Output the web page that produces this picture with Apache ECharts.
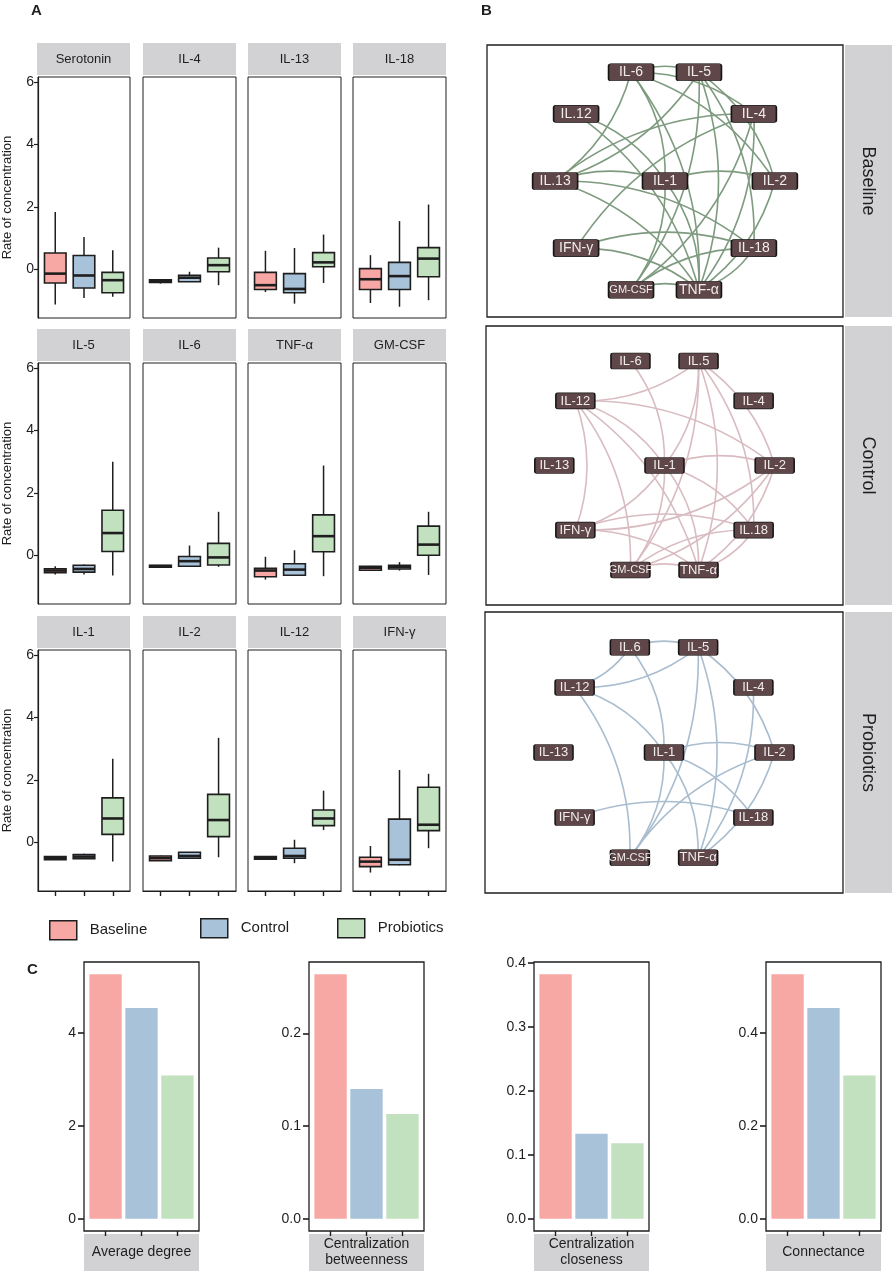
<!DOCTYPE html>
<html lang="en">
<head>
<meta charset="utf-8">
<title>Cytokines, networks and network metrics</title>
<script src="https://cdn.jsdelivr.net/npm/echarts@6/dist/echarts.min.js"></script>
<style>
    html, body { margin: 0; padding: 0; background: #fff; }
    #main { width: 892px; height: 1271px; }
</style>
</head>
<body>
<div id="main"></div>
<script>
// ---- data ----
var groups = ['Baseline', 'Control', 'Probiotics'];
var cytokines = ['Serotonin', 'IL-4', 'IL-13', 'IL-18', 'IL-5', 'IL-6', 'TNF-α', 'GM-CSF', 'IL-1', 'IL-2', 'IL-12', 'IFN-γ'];
// each row: [lower whisker, Q1, median, Q3, upper whisker]
var baselineBox = [
    [-1.12, -0.43, -0.13, 0.53, 1.84],
    [-0.45, -0.41, -0.37, -0.33, -0.31],
    [-0.72, -0.64, -0.50, -0.09, 0.60],
    [-1.07, -0.64, -0.31, 0.03, 0.46],
    [-0.61, -0.55, -0.48, -0.42, -0.34],
    [-0.38, -0.37, -0.34, -0.31, -0.30],
    [-0.77, -0.68, -0.48, -0.41, -0.04],
    [-0.49, -0.47, -0.39, -0.34, -0.33],
    [-0.56, -0.55, -0.50, -0.45, -0.44],
    [-0.59, -0.58, -0.50, -0.43, -0.42],
    [-0.54, -0.53, -0.49, -0.45, -0.44],
    [-0.96, -0.77, -0.61, -0.47, -0.11]
];
var controlBox = [
    [-0.91, -0.59, -0.19, 0.45, 1.04],
    [-0.39, -0.39, -0.26, -0.18, -0.07],
    [-1.09, -0.74, -0.62, -0.13, 0.69],
    [-1.19, -0.64, -0.21, 0.23, 1.55],
    [-0.61, -0.53, -0.43, -0.31, -0.29],
    [-0.36, -0.34, -0.18, -0.03, 0.32],
    [-0.64, -0.63, -0.45, -0.26, 0.17],
    [-0.48, -0.43, -0.36, -0.31, -0.21],
    [-0.53, -0.52, -0.45, -0.38, -0.36],
    [-0.51, -0.50, -0.43, -0.31, -0.30],
    [-0.66, -0.50, -0.43, -0.18, 0.09],
    [-0.73, -0.71, -0.55, 0.75, 2.32]
];
var probioticsBox = [
    [-0.87, -0.74, -0.34, -0.09, 0.62],
    [-0.50, -0.07, 0.14, 0.37, 0.70],
    [-0.43, 0.09, 0.23, 0.54, 1.12],
    [-0.98, -0.23, 0.35, 0.70, 2.08],
    [-0.64, 0.13, 0.72, 1.45, 3.00],
    [-0.36, -0.30, -0.06, 0.39, 1.40],
    [-0.66, 0.12, 0.62, 1.30, 2.88],
    [-0.62, 0.01, 0.35, 0.94, 1.40],
    [-0.61, 0.26, 0.77, 1.43, 2.68],
    [-0.47, 0.19, 0.72, 1.54, 3.35],
    [0.40, 0.54, 0.77, 1.04, 1.66],
    [-0.18, 0.38, 0.57, 1.77, 2.20]
];
var boxTicks = [0, 2, 4, 6];

var metricNames = ['Average degree', 'Centralization\nbetweenness', 'Centralization\ncloseness', 'Connectance'];
var baselineMetric = [5.27, 0.264, 0.382, 0.527];
var controlMetric = [4.54, 0.140, 0.133, 0.454];
var probioticsMetric = [3.09, 0.113, 0.118, 0.309];
var metricTicks = [[0, 2, 4], [0, 0.1, 0.2], [0, 0.1, 0.2, 0.3, 0.4], [0, 0.2, 0.4]];

// network nodes, ring order (counter-clockwise from the right), hub last
var netNodes = ['IL-2', 'IL-4', 'IL-5', 'IL-6', 'IL-12', 'IL-13', 'IFN-γ', 'GM-CSF', 'TNF-α', 'IL-18', 'IL-1'];
var baselineLabels = ['IL-2', 'IL-4', 'IL-5', 'IL-6', 'IL.12', 'IL.13', 'IFN-γ', 'GM-CSF', 'TNF-α', 'IL-18', 'IL-1'];
var controlLabels = ['IL-2', 'IL-4', 'IL.5', 'IL-6', 'IL-12', 'IL-13', 'IFN-γ', 'GM-CSF', 'TNF-α', 'IL.18', 'IL-1'];
var probioticsLabels = ['IL-2', 'IL-4', 'IL-5', 'IL.6', 'IL-12', 'IL-13', 'IFN-γ', 'GM-CSF', 'TNF-α', 'IL-18', 'IL-1'];
var baselineEdges = [
    ['IL-6', 'IL-5'], ['IL-6', 'IL-4'], ['IL-6', 'IL-2'], ['IL-6', 'IL-1'], ['IL-6', 'IL-13'],
    ['IL-6', 'TNF-α'], ['IL-5', 'IL-13'], ['IL-5', 'GM-CSF'], ['IL-5', 'TNF-α'], ['IL-5', 'IL-2'],
    ['IL-5', 'IL-18'], ['IL-12', 'IL-1'], ['IL-12', 'TNF-α'], ['IL-13', 'IL-4'], ['IL-13', 'IL-1'],
    ['IL-13', 'TNF-α'], ['IL-13', 'IL-18'], ['IFN-γ', 'IL-18'], ['IFN-γ', 'IL-4'], ['IFN-γ', 'TNF-α'],
    ['IL-1', 'GM-CSF'], ['IL-1', 'TNF-α'], ['IL-1', 'IL-2'], ['IL-4', 'GM-CSF'], ['IL-4', 'TNF-α'],
    ['IL-2', 'TNF-α'], ['GM-CSF', 'TNF-α'], ['GM-CSF', 'IL-18'], ['IL-18', 'TNF-α']
];
var controlEdges = [
    ['IL-6', 'IL-1'], ['IL-5', 'IL-12'], ['IL-5', 'IL-1'], ['IL-5', 'GM-CSF'], ['IL-5', 'IL-2'],
    ['IL-5', 'IL-18'], ['IL-5', 'TNF-α'], ['IL-12', 'IL-1'], ['IL-12', 'IL-2'], ['IL-12', 'IFN-γ'],
    ['IL-12', 'TNF-α'], ['IL-12', 'GM-CSF'], ['IL-1', 'IL-2'], ['IL-1', 'IL-18'], ['IL-1', 'TNF-α'],
    ['IL-1', 'IFN-γ'], ['IL-2', 'TNF-α'], ['IL-2', 'GM-CSF'], ['IL-2', 'IFN-γ'], ['IFN-γ', 'IL-18'],
    ['IFN-γ', 'TNF-α'], ['GM-CSF', 'TNF-α'], ['GM-CSF', 'IL-18'], ['IL-18', 'TNF-α'], ['IL-1', 'GM-CSF']
];
var probioticsEdges = [
    ['IL-6', 'IL-5'], ['IL-6', 'IL-12'], ['IL-6', 'IL-1'], ['IL-5', 'IL-12'], ['IL-5', 'GM-CSF'],
    ['IL-5', 'TNF-α'], ['IL-5', 'IL-2'], ['IL-12', 'IL-1'], ['IL-12', 'GM-CSF'], ['IL-4', 'TNF-α'],
    ['IL-1', 'IL-2'], ['IL-1', 'GM-CSF'], ['IL-1', 'TNF-α'], ['IFN-γ', 'IL-18'], ['GM-CSF', 'IL-2'],
    ['IL-2', 'TNF-α'], ['IL-1', 'IL-18']
];

// ---- styling / layout ----
var groupColors = ['#F7A8A4', '#A7C2D9', '#C1E1BF'];
var ink = '#1e1e1e';
var stripGray = '#D2D2D4';
var font = '"Liberation Sans", Arial, sans-serif';
var narrow = '"Liberation Sans Narrow", "Liberation Sans", Arial, sans-serif';
// node shape: rectangle with small rounded corners
var nodeShape = 'path://M2,0 H38 Q40,0 40,2 V13 Q40,15 38,15 H2 Q0,15 0,13 V2 Q0,0 2,0 Z';

var grids = [], xAxes = [], yAxes = [], series = [], graphics = [];

function addGrid(l, t, w, h) {
    grids.push({ left: l, top: t, width: w, height: h, show: true, borderColor: ink, borderWidth: 1, backgroundColor: 'rgba(0,0,0,0)' });
    return grids.length - 1;
}

function strip(x, y, w, h, text, size, fam) {
    graphics.push({ type: 'rect', left: x, top: y, shape: { width: w, height: h }, style: { fill: stripGray }, silent: true });
    graphics.push({ type: 'text', x: x + w / 2, y: y + h / 2, style: { text: text, fill: ink, font: size + 'px ' + fam, align: 'center', verticalAlign: 'middle', lineHeight: size + 2 }, silent: true });
}

function boxRender(color) {
    return function (params, api) {
        var x = api.value(0);
        var med = api.coord([x, api.value(3)]);
        var w = api.size([0.75, 0])[0];
        var yLo = api.coord([x, api.value(1)])[1];
        var yQ1 = api.coord([x, api.value(2)])[1];
        var yQ3 = api.coord([x, api.value(4)])[1];
        var yHi = api.coord([x, api.value(5)])[1];
        return {
            type: 'group',
            children: [
                { type: 'line', shape: { x1: med[0], y1: yHi, x2: med[0], y2: yLo }, style: { stroke: ink, lineWidth: 1.5 } },
                { type: 'rect', shape: { x: med[0] - w / 2, y: yQ3, width: w, height: Math.max(yQ1 - yQ3, 1.5) }, style: { fill: color, stroke: ink, lineWidth: 1.6 } },
                { type: 'line', shape: { x1: med[0] - w / 2, y1: med[1], x2: med[0] + w / 2, y2: med[1] }, style: { stroke: ink, lineWidth: 2.6 } }
            ]
        };
    };
}

function barRender(color) {
    return function (params, api) {
        var x = api.value(0);
        var p0 = api.coord([x, 0]);
        var p1 = api.coord([x, api.value(1)]);
        var w = api.size([0.9, 0])[0];
        return { type: 'rect', shape: { x: p0[0] - w / 2, y: p1[1], width: w, height: p0[1] - p1[1] }, style: { fill: color } };
    };
}

// ---- panel A: boxplots ----
var colLeft = [37, 143, 248, 353];
var rowTop = [77, 363, 650];
var boxSets = [baselineBox, controlBox, probioticsBox];
cytokines.forEach(function (name, k) {
    var row = Math.floor(k / 4), col = k % 4;
    var gi = addGrid(colLeft[col], rowTop[row], 93, 241);
    strip(colLeft[col], rowTop[row] - 34, 93, 32, name, 13, font);
    var first = col === 0, bottom = row === 2;
    xAxes.push({
        gridIndex: gi, type: 'value', min: 0.4, max: 3.6,
        axisLine: { show: bottom, onZero: false, lineStyle: { color: ink, width: 1.2 } },
        axisTick: { show: bottom, customValues: [1, 2, 3], length: 5, lineStyle: { color: ink, width: 1.4 } },
        axisLabel: { show: false }, splitLine: { show: false }
    });
    yAxes.push({
        gridIndex: gi, type: 'value', min: -1.55, max: 6.16,
        name: first ? 'Rate of concentration' : '', nameLocation: 'middle', nameGap: 24,
        nameTextStyle: { fontSize: 13, color: ink, fontFamily: font },
        axisLine: { show: first, onZero: false, lineStyle: { color: ink, width: 1.2 } },
        axisTick: { show: first, customValues: boxTicks, length: 4, lineStyle: { color: ink, width: 1.2 } },
        axisLabel: { show: first, customValues: boxTicks, fontSize: 14, color: ink, margin: 4, fontFamily: font },
        splitLine: { show: false }
    });
    groups.forEach(function (g, j) {
        var s = boxSets[j][k];
        series.push({
            type: 'custom', name: g, xAxisIndex: gi, yAxisIndex: gi,
            itemStyle: { color: groupColors[j] },
            encode: { x: 0, y: [1, 2, 3, 4, 5] },
            renderItem: boxRender(groupColors[j]),
            data: [[j + 1, s[0], s[1], s[2], s[3], s[4]]]
        });
    });
});

// ---- panel B: networks ----
var netSets = [
    { name: 'Baseline', labels: baselineLabels, edges: baselineEdges, rect: [487, 45, 356, 272], yHalf: 1.19, size: [45, 17], fs: 14, color: '#7E9B7F' },
    { name: 'Control', labels: controlLabels, edges: controlEdges, rect: [486, 326, 357, 279], yHalf: 1.27, size: [39, 16], fs: 13, color: '#D9BCC1' },
    { name: 'Probiotics', labels: probioticsLabels, edges: probioticsEdges, rect: [485, 612, 358, 281], yHalf: 1.27, size: [39, 16], fs: 13, color: '#A9BDCF' }
];
netSets.forEach(function (net) {
    var r = net.rect;
    var gi = addGrid(r[0], r[1], r[2], r[3]);
    grids[gi].borderWidth = 1.3;
    strip(845, r[1], 47, r[3], '', 16, font);
    graphics.push({
        type: 'text', x: 868, y: r[1] + r[3] / 2, rotation: -Math.PI / 2,
        style: { text: net.name, fill: ink, font: '18px ' + font, align: 'center', verticalAlign: 'middle' }, silent: true
    });
    xAxes.push({ gridIndex: gi, type: 'value', min: -1.62, max: 1.62, show: false });
    yAxes.push({ gridIndex: gi, type: 'value', min: -net.yHalf, max: net.yHalf, show: false });
    var nodes = netNodes.map(function (n, i) {
        var pos = [0, 0];
        if (i < 10) {
            var a = i * Math.PI / 5;
            pos = [Math.cos(a), Math.sin(a)];
        }
        return { name: n, value: pos };
    });
    var labels = net.labels;
    series.push({
        type: 'graph', name: 'net-' + net.name, coordinateSystem: 'cartesian2d', xAxisIndex: gi, yAxisIndex: gi,
        layout: 'none', roam: false, silent: true,
        symbol: nodeShape, symbolSize: net.size, symbolKeepAspect: false,
        itemStyle: { color: '#5E4649', borderColor: '#151515', borderWidth: 1 },
        label: {
            show: true, position: 'inside', color: '#F1ECEC', fontSize: net.fs, fontFamily: font,
            formatter: function (p) {
                var t = labels[p.dataIndex];
                return t === 'GM-CSF' ? '{s|' + t + '}' : t;
            },
            rich: { s: { fontSize: 11, color: '#F1ECEC', fontFamily: narrow } }
        },
        lineStyle: { color: net.color, width: 1.6, curveness: 0.18, opacity: 1 },
        emphasis: { disabled: true },
        data: nodes,
        links: net.edges.map(function (e) { return { source: e[0], target: e[1] }; })
    });
});

// ---- legend ----
var legendLeft = [44, 195, 332];
var legendTop = [915, 913, 913];
var legends = groups.map(function (g, j) {
    return {
        data: [g], left: legendLeft[j], top: legendTop[j], icon: 'rect',
        itemWidth: 27, itemHeight: 19, itemGap: 10, selectedMode: false,
        itemStyle: { borderColor: ink, borderWidth: 1.5 },
        textStyle: { fontSize: 15, color: ink, fontFamily: font, padding: [0, 0, 0, 8] }
    };
});

// ---- panel C: network metrics ----
var cLeft = [84, 309, 534, 766];
var metricSets = [baselineMetric, controlMetric, probioticsMetric];
metricNames.forEach(function (m, k) {
    var gi = addGrid(cLeft[k], 962, 115, 269);
    grids[gi].borderWidth = 1.3;
    strip(cLeft[k], 1234, 115, 37, m, 14, narrow);
    var top = Math.max(baselineMetric[k], controlMetric[k], probioticsMetric[k]);
    var dec = k === 0 ? 0 : 1;
    xAxes.push({
        gridIndex: gi, type: 'value', min: 0.4, max: 3.6,
        axisLine: { show: false, onZero: false },
        axisTick: { show: true, customValues: [1, 2, 3], length: 5, lineStyle: { color: ink, width: 1.4 } },
        axisLabel: { show: false }, splitLine: { show: false }
    });
    yAxes.push({
        gridIndex: gi, type: 'value', min: -0.05 * top, max: 1.05 * top,
        axisLine: { show: false, onZero: false },
        axisTick: { show: true, customValues: metricTicks[k], length: 6, lineStyle: { color: ink, width: 1.6 } },
        axisLabel: {
            show: true, customValues: metricTicks[k], fontSize: 14, color: ink, margin: 8, fontFamily: narrow,
            formatter: function (v) { return Number(v).toFixed(dec); }
        },
        splitLine: { show: false }
    });
    groups.forEach(function (g, j) {
        series.push({
            type: 'custom', name: g, xAxisIndex: gi, yAxisIndex: gi,
            itemStyle: { color: groupColors[j] },
            encode: { x: 0, y: 1 },
            renderItem: barRender(groupColors[j]),
            data: [[j + 1, metricSets[j][k]]]
        });
    });
});

// panel letters
graphics.push({ type: 'text', x: 31, y: 3, style: { text: 'A', font: 'bold 15px ' + font, fill: ink }, silent: true });
graphics.push({ type: 'text', x: 481, y: 3, style: { text: 'B', font: 'bold 15px ' + font, fill: ink }, silent: true });
graphics.push({ type: 'text', x: 27, y: 962, style: { text: 'C', font: 'bold 15px ' + font, fill: ink }, silent: true });

var chart = echarts.init(document.getElementById('main'), null, { renderer: 'canvas' });
chart.setOption({
    backgroundColor: '#fff',
    animation: false,
    textStyle: { fontFamily: font },
    grid: grids,
    xAxis: xAxes,
    yAxis: yAxes,
    legend: legends,
    series: series,
    graphic: graphics
});
</script>
</body>
</html>
